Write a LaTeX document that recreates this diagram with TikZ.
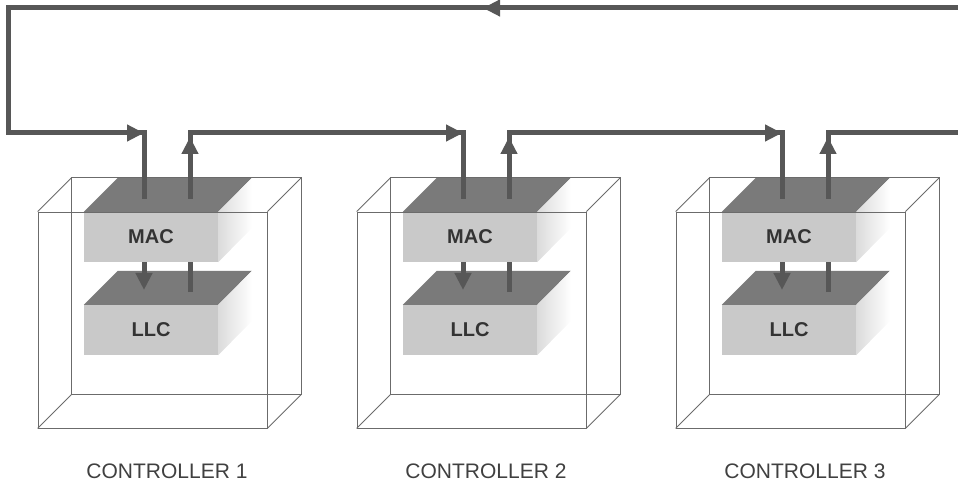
\documentclass[tikz,border=0pt]{standalone}
\usepackage{fontspec}
\setmainfont{Liberation Sans}
\usepackage{xcolor}
\usepackage{tikz}
\usetikzlibrary{arrows.meta,positioning,calc}

\definecolor{topgray}{gray}{0.48}
\definecolor{frontgray}{gray}{0.79}
\definecolor{sidegray}{gray}{0.86}
\definecolor{wiregray}{gray}{0.34}
\definecolor{edgegray}{gray}{0.42}

\begin{document}
\begin{tikzpicture}[
    x=1pt, y=-1pt,
    wire/.style={line width=5pt, draw=wiregray, line cap=rect, line join=miter},
    flow/.style={wire, -{Triangle[length=17pt, width=16pt]}},
    link/.style={wire, line cap=butt},
    layer/.style={fill=frontgray, minimum width=134pt, minimum height=50pt,
                  inner sep=0pt, text=black!80,
                  font=\fontsize{20}{24}\selectfont\bfseries},
    shell/.style={draw=edgegray, line width=0.8pt, minimum width=229pt,
                  minimum height=216pt, inner sep=0pt},
    edge/.style={draw=edgegray, line width=0.8pt},
    caption/.style={font=\fontsize{21}{25}\selectfont, text=black!75}
  ]
  \useasboundingbox (0,0) rectangle (958,486);

  % --- the three controllers ---
  \foreach \i in {1,2,3} {
    \pgfmathsetmacro{\dx}{(\i-1)*319}

    % MAC and LLC layers (front face, top, side)
    \node[layer] (mac\i) at (151+\dx,237) {MAC};
    \node[layer] (llc\i) at (151+\dx,330) {LLC};
    \foreach \b in {mac\i,llc\i} {
      \fill[topgray] (\b.north west) -- ++(34,-34) -- ++(134,0)
                     -- (\b.north east) -- cycle;
      \shade[left color=sidegray, right color=white]
            (\b.north east) -- ++(34,-34) -- ++(0,50)
            -- (\b.south east) -- cycle;
    }

    % wire-frame cabinet
    \node[shell] (box\i) at (152.5+\dx,320) {};
    \draw[edge] ($(box\i.north west)+(34,-34)$) rectangle ($(box\i.south east)+(34,-34)$);
    \foreach \c in {north west,north east,south west,south east}
      \draw[edge] (box\i.\c) -- ++(34,-34);

    \node[caption] (cap\i) at (167+\dx,471) {CONTROLLER \i};

    % ports on the medium
    \coordinate (in\i)  at (144+\dx,133);
    \coordinate (dn\i)  at (144+\dx,197);
    \coordinate (up\i)  at (190+\dx,197);
    \coordinate (out\i) at (190+\dx,133);
    \coordinate (ot\i)  at (190+\dx,137);
    \coordinate (lt\i)  at (144+\dx,290);
    \coordinate (lu\i)  at (190+\dx,292);

    % MAC <-> LLC
    \draw[flow, line cap=butt] (mac\i.south -| dn\i) -- (lt\i);
    \draw[link] (lu\i) -- (mac\i.south -| up\i);
  }

  % --- ring between controllers ---
  \coordinate (se)  at (963,133);
  \coordinate (ne)  at (963,8);
  \coordinate (nw)  at (8,8);
  \coordinate (sw)  at (8,133);
  \coordinate (mid) at (483,8);

  \draw[wire] (up3) -- (out3) -- (se) -- (ne) -- (nw) -- (sw) -- (in1) -- (dn1);
  \draw[flow] (ne) -- (mid);
  \draw[flow] (sw) -- (in1);
  \draw[flow] (up3) -- (ot3);

  \draw[wire] (up1) -- (out1) -- (in2) -- (dn2);
  \draw[flow] (up1) -- (ot1);
  \draw[flow] (out1) -- (in2);

  \draw[wire] (up2) -- (out2) -- (in3) -- (dn3);
  \draw[flow] (up2) -- (ot2);
  \draw[flow] (out2) -- (in3);

\end{tikzpicture}
\end{document}
